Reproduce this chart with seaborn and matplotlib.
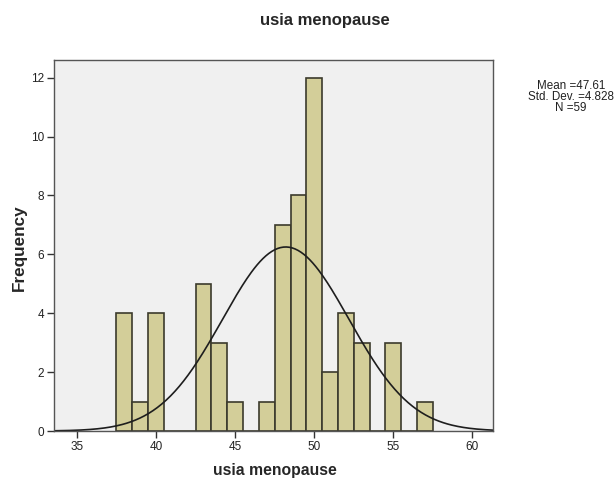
import numpy as np
import pandas as pd
import matplotlib
matplotlib.use('Agg')
import matplotlib.pyplot as plt
import seaborn as sns

# histogram counts (bins of width 1, centred on whole years)
ages = [38, 39, 40, 43, 44, 45, 47, 48, 49, 50, 51, 52, 53, 55, 57]
counts = [4, 1, 4, 5, 3, 1, 1, 7, 8, 12, 2, 4, 3, 3, 1]

# normal curve overlay as it appears in the picture
curve_center = 48.2
curve_sd = 4.0
curve_peak = 6.25

stats_text = "Mean =47.61\nStd. Dev. =4.828\nN =59"
title = "usia menopause"
xlabel = "usia menopause"
ylabel = "Frequency"

df = pd.DataFrame({'usia': np.repeat(ages, counts)})

xs = np.linspace(33.6, 61.3, 300)
curve = pd.DataFrame({'x': xs,
                      'y': curve_peak * np.exp(-(xs - curve_center) ** 2 / (2 * curve_sd ** 2))})

sns.set_style('white')
plt.rcParams['font.family'] = ['Liberation Sans', 'DejaVu Sans']

fig = plt.figure(figsize=(6.16, 4.83), dpi=100)
ax = fig.add_axes([54 / 616, 1 - 431 / 483, (493 - 54) / 616, (431 - 60) / 483])
ax.set_facecolor('#F0F0F0')

sns.histplot(data=df, x='usia', discrete=True, ax=ax, color='#D3CE99', alpha=1,
             edgecolor='#3B3A2C', linewidth=1.2)
sns.lineplot(data=curve, x='x', y='y', ax=ax, color='#1E1E1E', linewidth=1.2)

ax.set_xlim(33.55, 61.3)
ax.set_ylim(0, 12.6)
ax.set_xticks([35, 40, 45, 50, 55, 60])
ax.set_yticks([0, 2, 4, 6, 8, 10, 12])
ax.tick_params(axis='both', direction='out', length=5, width=1, color='#333333',
               labelsize=8.5, labelcolor='#222222', pad=2, bottom=True, left=True)
for s in ax.spines.values():
    s.set_color('#555555')
    s.set_linewidth(1)

ax.set_xlabel('')
ax.set_ylabel('')
fig.text(274.5 / 616, 1 - 471 / 483, xlabel, ha='center', va='center',
         fontsize=11.3, fontweight='bold')
fig.text(19 / 616, 1 - 248 / 483, ylabel, ha='center', va='center', rotation=90,
         fontsize=12.3, fontweight='bold')

fig.text(324.5 / 616, 1 - 20 / 483, title, ha='center', va='center', fontsize=12, fontweight='bold')
fig.text(571 / 616, 1 - 97 / 483, stats_text, ha='center', va='center', fontsize=8.4,
         linespacing=0.85, color='#222222')

fig.savefig('out.png', dpi=100)
